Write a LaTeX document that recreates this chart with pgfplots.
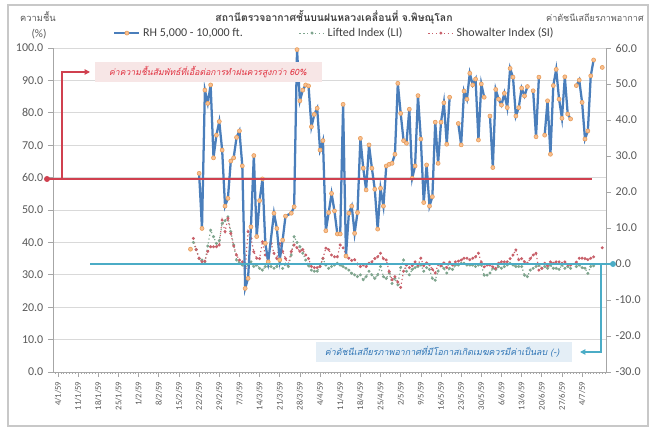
\documentclass[border=0pt]{standalone}
\usepackage{fontspec}
\setmainfont{Carlito}
\newfontfamily\thaifont[Script=Thai]{Loma}
\usepackage{pgfplots}
\usepackage{pgfplotstable}
\pgfplotsset{compat=1.18}
\usetikzlibrary{arrows.meta}

\definecolor{rhblue}{HTML}{4A7EBB}
\definecolor{mkfill}{HTML}{FAC090}
\definecolor{mkedge}{HTML}{E8A060}
\definecolor{sired}{HTML}{C8606A}
\definecolor{ligreen}{HTML}{7FA58E}
\definecolor{txtgray}{HTML}{595959}
\definecolor{titlegray}{HTML}{404040}
\definecolor{axgray}{HTML}{A6A6A6}
\definecolor{gridgray}{HTML}{D9D9D9}
\definecolor{annred}{HTML}{D0404F}
\definecolor{annblue}{HTML}{4BACC6}
\definecolor{pinkbg}{HTML}{F7E6E6}
\definecolor{bluebg}{HTML}{E4EEF6}
\definecolor{redtxt}{HTML}{E0303F}
\definecolor{bluetxt}{HTML}{2E74B5}
\definecolor{framegray}{HTML}{C8C8C8}

\pgfplotstableread{
d rh
46 37.9
47 nan
49 61.3
50 44.3
51 87.0
52 82.9
53 88.6
54 66.1
55 73.1
56 77.3
57 68.5
58 51.2
59 53.6
60 65.1
61 66.1
62 72.4
63 74.4
64 63.6
65 25.8
66 28.9
67 44.8
68 66.8
69 41.8
70 52.9
71 59.6
72 39.7
73 34.0
75 49.0
76 44.3
77 34.6
78 40.7
79 48.1
81 49.0
82 51.0
83 99.5
84 83.7
85 87.0
86 88.6
87 88.3
88 75.7
89 79.5
90 81.4
91 68.5
92 71.4
93 43.6
94 49.2
95 55.1
96 49.7
97 42.6
98 42.6
99 82.6
100 35.8
101 49.0
102 51.2
103 42.8
104 49.2
105 72.1
106 62.9
107 56.2
108 70.1
109 62.9
110 56.4
111 44.1
112 56.7
113 51.2
114 63.6
115 64.1
116 64.4
117 67.2
118 89.1
119 79.8
120 71.4
121 70.6
122 81.1
123 59.8
124 63.6
125 85.3
126 71.9
127 52.3
128 63.9
129 51.2
130 54.1
131 77.1
132 64.4
133 77.1
134 83.1
135 70.3
136 84.8
137 nan
139 76.7
140 70.1
141 86.7
142 84.2
143 92.2
144 88.6
145 90.4
146 71.6
147 88.9
148 84.8
149 nan
150 79.0
151 63.1
152 87.2
153 84.2
154 82.4
155 86.0
156 81.6
157 93.7
158 91.0
159 79.0
160 81.6
161 87.6
162 85.2
163 88.1
164 nan
165 86.8
166 72.6
167 91.0
168 nan
169 73.1
170 83.7
171 67.2
172 88.4
173 93.4
174 84.2
175 78.3
176 91.1
177 79.6
178 78.1
179 nan
180 88.4
181 90.1
182 83.2
183 71.9
184 74.4
185 91.4
186 96.3
187 nan
189 94.0
}\rhdata

\pgfplotstableread{
d si li
47 7.1 6.0
48 4.0 4.0
49 1.6 1.5
50 0.6 1.1
51 0.8 0.6
52 3.5 5.0
53 4.8 9.4
54 4.8 7.6
55 4.8 5.7
56 5.3 6.5
57 12.2 11.3
58 9.0 12.0
59 12.7 13.1
60 8.5 9.0
61 5.0 5.3
62 2.5 1.1
63 1.1 0.3
64 0.6 -0.3
65 -1.2 -0.7
66 9.0 -0.3
67 7.1 0.6
68 3.4 -0.7
69 1.6 -0.3
70 1.5 -1.2
71 6.2 -1.7
72 2.5 -0.7
73 1.0 -0.7
74 5.7 -0.7
75 3.0 -1.2
76 1.5 -0.7
77 5.7 0.6
78 3.5 -1.2
79 1.5 0.0
80 0.0 -0.7
81 3.5 2.5
82 5.3 7.6
83 4.5 6.0
84 3.5 4.8
85 4.0 3.0
86 2.5 1.1
87 1.5 -0.5
88 -0.7 -1.7
89 -1.0 -2.0
90 -1.0 -2.0
91 -0.7 -0.7
92 1.6 1.5
93 4.4 -0.3
94 4.0 -1.2
95 2.5 -0.7
96 2.0 -0.3
97 2.0 0.2
98 5.3 -0.3
99 4.5 -0.7
100 2.5 -1.2
101 1.6 -1.7
102 1.0 -2.6
103 1.2 -3.0
104 0.0 -3.5
105 -0.7 -3.0
106 -0.3 -4.4
107 -0.7 -3.5
108 0.2 -2.0
109 0.6 -3.0
110 1.5 -4.0
111 2.0 -3.0
112 3.0 -0.7
113 1.5 -3.5
114 1.1 -4.0
115 -2.1 -2.5
116 -4.4 -5.4
117 -3.5 -4.0
118 -5.0 -5.8
119 -6.5 -1.0
120 -2.0 1.1
121 -0.3 -2.0
122 -1.0 -3.0
123 -0.5 -1.5
124 0.6 -1.0
125 -0.3 -0.7
126 1.6 -0.3
127 -0.5 -2.0
128 0.3 -1.0
129 -0.2 -1.5
130 -1.5 -4.0
131 -2.5 -4.5
132 -0.2 -2.0
133 -0.5 -0.3
134 0.3 -1.2
135 -1.0 -2.5
136 0.5 -1.2
137 -0.3 -1.5
138 0.6 -0.3
139 0.8 -0.3
140 1.1 0.2
141 1.6 0.2
142 1.6 -0.3
143 1.2 -0.3
144 1.6 -0.3
145 2.0 -0.7
146 3.0 -0.3
147 0.5 -0.3
148 -0.8 -3.1
149 -0.3 -3.1
150 -0.3 -2.5
151 -0.8 -1.2
152 -1.2 -1.5
153 0.2 -0.7
154 0.6 -1.2
155 0.6 -0.7
156 0.6 -0.3
157 1.5 0.2
158 2.5 -0.3
159 3.9 -0.7
160 1.2 -0.7
161 1.5 -0.7
162 0.6 -3.1
163 0.2 -3.5
164 1.5 -1.7
165 2.5 -1.2
166 3.0 -0.7
167 -1.7 -0.3
168 -1.2 -1.2
169 0.2 -0.7
170 -0.5 -1.2
171 0.6 -0.3
172 0.2 -1.2
173 0.6 -1.2
174 0.6 -1.5
175 0.2 -0.3
176 0.6 -1.2
177 -0.2 -0.7
178 -0.3 -1.2
179 nan nan
180 0.5 -0.7
181 1.6 -0.3
182 1.6 -1.0
183 1.5 -1.2
184 1.2 -2.6
185 1.6 -0.7
186 2.0 -0.5
187 nan nan
189 4.5 nan
}\sidata

\pgfplotsset{
  common/.style={at={(39.75pt,42pt)}, anchor=south west, width=414.75pt, height=243pt,
    scale only axis, xmin=-1.74, xmax=190.3},
  rhstyle/.style={rhblue, line width=1.7pt, mark=*, mark size=1.5pt,
    mark options={fill=mkfill, draw=mkedge, line width=0.5pt, solid}},
  sistyle/.style={sired, dotted, line width=0.9pt, mark=*, mark size=0.6pt, mark options={solid, fill=sired}},
  listyle/.style={ligreen, dotted, line width=0.9pt, mark=*, mark size=0.6pt, mark options={solid, fill=ligreen}},
}

\begin{document}
\begin{tikzpicture}[x=0.75pt,y=0.75pt]
\useasboundingbox (0,0) rectangle (656,428);
\draw[framegray, line width=0.8pt] (8,2) rectangle (648,423);

% left axis with grid and date axis
\begin{axis}[common, ymin=0, ymax=100,
  axis x line*=bottom, axis y line*=left,
  axis line style={draw=axgray, line width=0.6pt, -},
  ytick={0,10,...,100}, ymajorgrids, grid style={draw=gridgray, line width=0.5pt},
  tick align=outside, major tick length=3.75pt, minor tick length=1.6pt,
  tick style={draw=axgray, line width=0.5pt},
  xtick={0,7,...,182}, minor xtick={-1,0,...,190},
  xticklabels={4/1/59,11/1/59,18/1/59,25/1/59,1/2/59,8/2/59,15/2/59,22/2/59,29/2/59,7/3/59,14/3/59,21/3/59,28/3/59,4/4/59,11/4/59,18/4/59,25/4/59,2/5/59,9/5/59,16/5/59,23/5/59,30/5/59,6/6/59,13/6/59,20/6/59,27/6/59,4/7/59},
  xticklabel style={rotate=90, anchor=east, font=\fontsize{6.5}{7}\selectfont, text=txtgray},
  yticklabel style={font=\fontsize{9}{10}\selectfont, text=txtgray},
  yticklabel={\pgfmathprintnumber[fixed,fixed zerofill,precision=1,assume math mode=true]{\tick}},
]
\addplot[draw=none] coordinates {(0,0)};
\end{axis}

% right axis with LI and SI
\begin{axis}[common, ymin=-30, ymax=60,
  axis x line=none, axis y line*=right,
  axis line style={draw=axgray, line width=0.6pt, -},
  ytick={-30,-20,...,60},
  tick align=outside, major tick length=3.75pt,
  tick style={draw=axgray, line width=0.5pt},
  yticklabel style={font=\fontsize{9}{10}\selectfont, text=txtgray},
  yticklabel={\pgfmathprintnumber[fixed,fixed zerofill,precision=1,assume math mode=true]{\tick}},
  unbounded coords=jump,
  legend style={at={(axis description cs:0.1085,1.046)}, anchor=west, draw=none, fill=none,
    inner sep=0pt, legend columns=3, font=\fontsize{9}{10}\selectfont, text=titlegray,
    /tikz/column 2/.style={column sep=40pt}, /tikz/column 4/.style={column sep=17pt}},
  legend image code/.code={\draw[mark repeat=2,mark phase=2,#1] plot coordinates {(0pt,0pt) (9.4pt,0pt) (18.75pt,0pt)};},
]
\addlegendimage{rhstyle}
\addlegendentry{RH 5,000 - 10,000 ft.}
\addplot[listyle] table[x=d, y=li] {\sidata};
\addlegendentry{Lifted Index (LI)}
\addplot[sistyle] table[x=d, y=si] {\sidata};
\addlegendentry{Showalter Index (SI)}
\end{axis}

% RH on top
\begin{axis}[common, ymin=0, ymax=100, axis lines=none, clip=false, unbounded coords=jump]
\addplot[rhstyle] table[x=d, y=rh] {\rhdata};
\end{axis}

% annotations
\draw[annred, line width=0.8pt] (47,249) -- (592,249);
\fill[annred] (47,249) circle[radius=3];
\draw[annred, line width=0.8pt, -{Triangle[length=4pt,width=4pt]}] (62,249) -- (62,356) -- (90,356);
\fill[pinkbg] (95,346) rectangle (322,366);
\node[text=redtxt, font=\thaifont\itshape\fontsize{6.5}{8}\selectfont] at (208,356) {ค่าความชื้นสัมพัทธ์ที่เอื้อต่อการทำฝนควรสูงกว่า 60\%};

\draw[annblue, line width=0.8pt] (90,164) -- (613,164);
\fill[annblue] (613,164) circle[radius=3];
\fill[bluebg] (316,66) rectangle (572,86);
\draw[annblue, line width=0.8pt, -{Triangle[length=4pt,width=4pt]}] (601,164) -- (601,76) -- (580,76);
\node[text=bluetxt, font=\thaifont\itshape\fontsize{6.7}{8}\selectfont] at (442,76) {ค่าดัชนีเสถียรภาพอากาศที่มีโอกาสเกิดเมฆควรมีค่าเป็นลบ (-)};

% titles
\node[text=titlegray, font=\thaifont\bfseries\fontsize{7.8}{10}\selectfont] at (334,411) {สถานีตรวจอากาศชั้นบนฝนหลวงเคลื่อนที่ จ.พิษณุโลก};
\node[text=txtgray, font=\thaifont\fontsize{7}{9}\selectfont] at (38,411) {ความชื้น};
\node[text=txtgray, font=\fontsize{8.5}{10}\selectfont] at (39,394) {(\%)};
\node[text=txtgray, font=\thaifont\fontsize{6.8}{9}\selectfont] at (595,410) {ค่าดัชนีเสถียรภาพอากาศ};
\end{tikzpicture}
\end{document}
